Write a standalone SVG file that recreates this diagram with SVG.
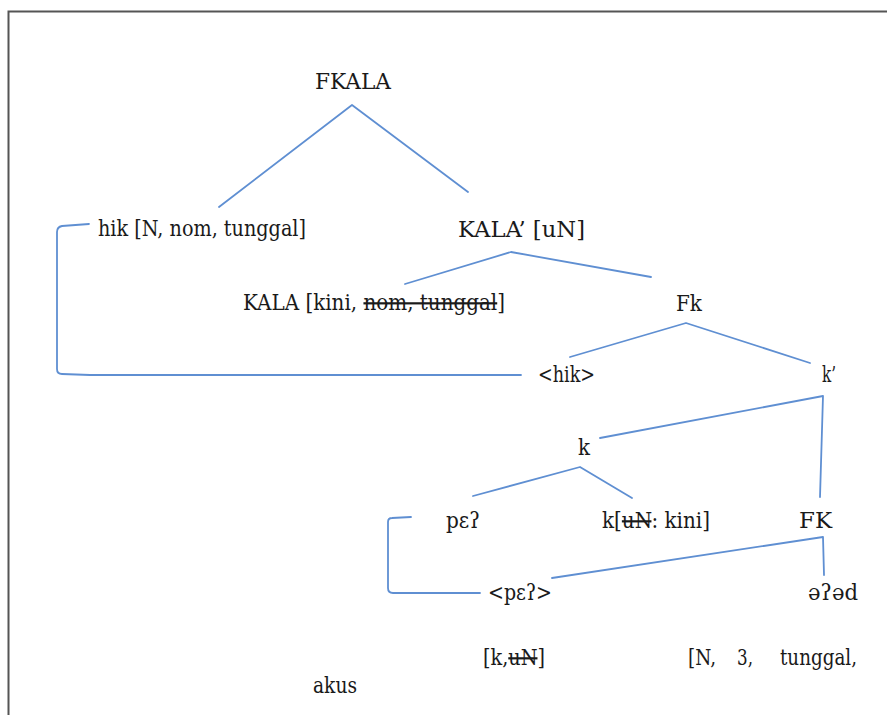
<svg xmlns="http://www.w3.org/2000/svg" width="887" height="715" viewBox="0 0 887 715">
<style>
.t text{font-size:22px;fill:#1a1a1a}
.st{text-decoration:line-through}
.ln{stroke:#5f8fd2;stroke-width:1.8;fill:none;stroke-linecap:round;stroke-linejoin:round}
</style>
<rect width="887" height="715" fill="#fff"/>
<path d="M8.5,715 V11.5 H887" fill="none" stroke="#555" stroke-width="2"/>
<g id="connectors">
<polyline class="ln" points="219,207 352,105 468,192"/>
<polyline class="ln" points="405,284 511,252 651,277"/>
<polyline class="ln" points="570,357 686,323 810,363"/>
<polyline class="ln" points="600,438 823,396 820,497"/>
<polyline class="ln" points="473,496 580,467 632,498"/>
<polyline class="ln" points="552,578 823,537 824,575"/>
<path class="ln" d="M89,224 L62,226 Q57,227 57,232 V369 Q57,374 62,374 L90,375 L521,375"/>
<path class="ln" d="M411,517 L392,518 Q388,518 388,522 V588 Q388,593 393,593 L480,593"/>
</g>
<g class="t" font-family="DejaVu Serif, Liberation Serif, serif">
<g id="n-fkala"><text x="315" y="89" textLength="76" lengthAdjust="spacingAndGlyphs">FKALA</text></g>
<g id="n-hik"><text x="98" y="236" textLength="208" lengthAdjust="spacingAndGlyphs">hik [N, nom, tunggal]</text></g>
<g id="n-kalabar"><text x="458" y="237" textLength="127" lengthAdjust="spacingAndGlyphs">KALA’ [uN]</text></g>
<g id="n-kala"><text x="243" y="310" textLength="262" lengthAdjust="spacingAndGlyphs">KALA [kini, <tspan class="st">nom, tunggal</tspan>]</text></g>
<g id="n-fk"><text x="676" y="311" textLength="26" lengthAdjust="spacingAndGlyphs">Fk</text></g>
<g id="n-hikcopy"><text x="538" y="382" textLength="57" lengthAdjust="spacingAndGlyphs">&lt;hik&gt;</text></g>
<g id="n-kbar"><text x="822" y="382" textLength="14" lengthAdjust="spacingAndGlyphs">k’</text></g>
<g id="n-k"><text x="578" y="455" textLength="12" lengthAdjust="spacingAndGlyphs">k</text></g>
<g id="n-pe"><text x="446" y="528" textLength="34" lengthAdjust="spacingAndGlyphs">pɛʔ</text></g>
<g id="n-khead"><text x="602" y="528" textLength="108" lengthAdjust="spacingAndGlyphs">k[<tspan class="st">uN</tspan>: kini]</text></g>
<g id="n-FK"><text x="799" y="528" textLength="33" lengthAdjust="spacingAndGlyphs">FK</text></g>
<g id="n-pecopy"><text x="488" y="600" textLength="64" lengthAdjust="spacingAndGlyphs">&lt;pɛʔ&gt;</text></g>
<g id="n-ed"><text x="808" y="600" textLength="50" lengthAdjust="spacingAndGlyphs">əʔəd</text></g>
<g id="n-feat1"><text x="483" y="665" textLength="62" lengthAdjust="spacingAndGlyphs">[k,<tspan class="st">uN</tspan>]</text></g>
<g id="n-feat2"><text x="688" y="665" textLength="28" lengthAdjust="spacingAndGlyphs">[N,</text><text x="737" y="665" textLength="16" lengthAdjust="spacingAndGlyphs">3,</text><text x="780" y="665" textLength="77" lengthAdjust="spacingAndGlyphs">tunggal,</text></g>
<g id="n-akus"><text x="313" y="693" textLength="44" lengthAdjust="spacingAndGlyphs">akus</text></g>
</g>
</svg>
